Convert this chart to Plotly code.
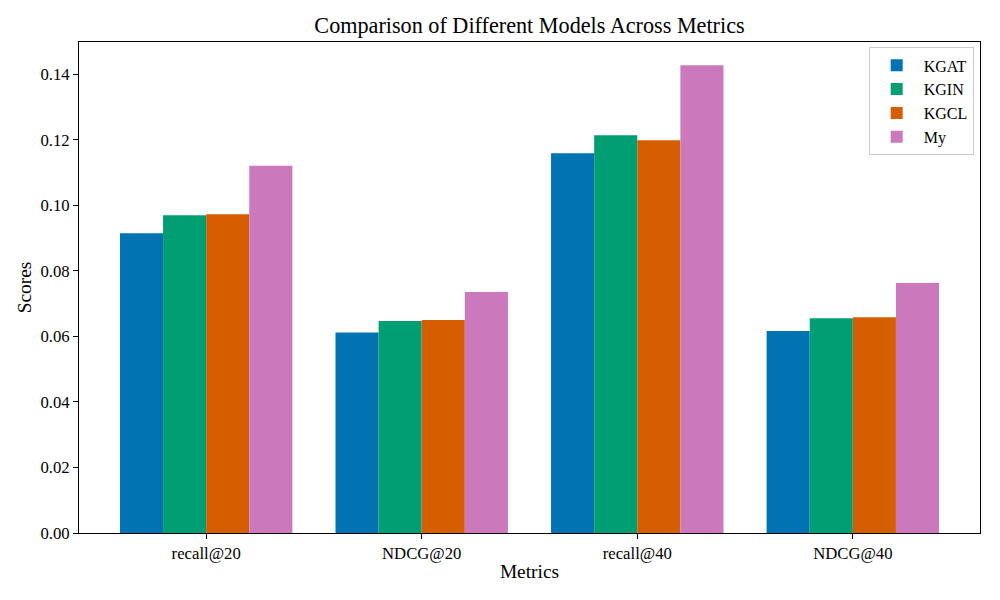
import plotly.graph_objects as go

metrics = ["recall@20", "NDCG@20", "recall@40", "NDCG@40"]
models = ["KGAT", "KGIN", "KGCL", "My"]
kgat = [0.0915, 0.0612, 0.1159, 0.0617]
kgin = [0.0970, 0.0647, 0.1214, 0.0656]
kgcl = [0.0973, 0.0650, 0.1199, 0.0659]
my = [0.1121, 0.0736, 0.1428, 0.0763]
yticks = [0.00, 0.02, 0.04, 0.06, 0.08, 0.10, 0.12, 0.14]

colors = ["#0173B2", "#029E73", "#D55E00", "#CC78BC"]
series = [kgat, kgin, kgcl, my]

FONT = "Liberation Serif, Times New Roman, serif"

fig = go.Figure()
for name, vals, c in zip(models, series, colors):
    fig.add_trace(go.Bar(x=metrics, y=vals, name=name, marker=dict(color=c, line=dict(width=0))))

fig.update_layout(
    width=1000, height=600,
    paper_bgcolor="white", plot_bgcolor="white",
    font=dict(family=FONT, size=16.7, color="black"),
    barmode="group", bargap=0.2, bargroupgap=0,
    margin=dict(l=71, r=28, t=34, b=75, autoexpand=False),
    title=dict(text="Comparison of Different Models Across Metrics", x=0.5, xref="paper", xanchor="center",
               y=1 - 17/600, yanchor="middle", font=dict(size=22.2)),
    legend=dict(x=0.993, y=0.989, xanchor="right", yanchor="top",
                bordercolor="#cccccc", borderwidth=1, bgcolor="rgba(255,255,255,0.8)",
                font=dict(size=16), tracegroupgap=1, itemwidth=44),
    showlegend=True,
)
fig.update_xaxes(
    range=[-0.59, 3.59], showline=True, linecolor="black", linewidth=1, mirror=True,
    ticks="outside", ticklen=5, tickcolor="black", showgrid=False, automargin=False,
    title=dict(text="Metrics", font=dict(size=19.4), standoff=2),
)
fig.update_yaxes(
    range=[0, 0.1499], tickvals=yticks, ticktext=[f"{v:.2f}" for v in yticks],
    showline=True, linecolor="black", linewidth=1, mirror=True, automargin=False,
    ticks="outside", ticklen=5, tickcolor="black", showgrid=False, zeroline=False,
    title=dict(text="Scores", font=dict(size=19.4), standoff=3),
)

fig.write_html("out.html")
